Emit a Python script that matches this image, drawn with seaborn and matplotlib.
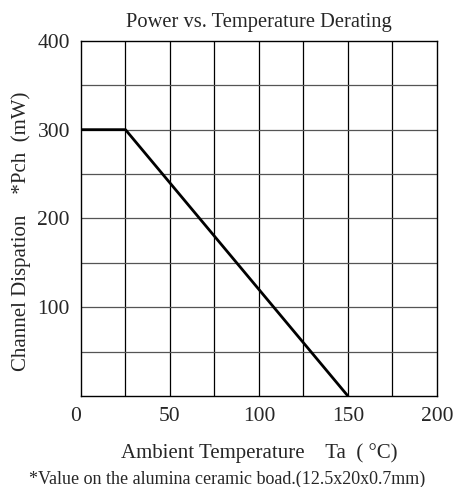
import numpy as np
import pandas as pd
import matplotlib
matplotlib.use("Agg")
import matplotlib.pyplot as plt
import seaborn as sns

# dados da curva de derating
temperatura = [0, 25, 150]
potencia = [300, 300, 0]
x_ticks = [0, 50, 100, 150, 200]
y_ticks = [100, 200, 300, 400]

sns.set_style("white")
plt.rcParams['font.family'] = ['Liberation Serif', 'DejaVu Serif']

df = pd.DataFrame({'Ta': temperatura, 'Pch': potencia})

fig = plt.figure(figsize=(4.55, 4.87), dpi=100)
ax = fig.add_axes([0.178, 0.187, 0.782, 0.729])

# grade
for xv in np.arange(25, 200, 25):
    ax.axvline(xv, color='black', lw=0.9, zorder=1)
for yv in np.arange(50, 400, 50):
    ax.axhline(yv, color='#555555', lw=0.9, zorder=1)

sns.lineplot(data=df, x='Ta', y='Pch', color='black', lw=2.0, ax=ax, zorder=3)

ax.set_xlim(0, 200)
ax.set_ylim(0, 400)
ax.set_xticks(x_ticks)
ax.set_yticks(y_ticks)
ax.tick_params(length=0, labelsize=15.5, pad=8)
ax.get_xticklabels()[0].set_horizontalalignment('right')
for s in ax.spines.values():
    s.set_color('black')
    s.set_linewidth(1.0)

ax.set_title('Power vs. Temperature Derating', fontsize=14.8, pad=10)
ax.set_xlabel('Ambient Temperature    Ta  ( °C)', fontsize=15, labelpad=12)
ax.set_ylabel('Channel Dispation    *Pch  (mW)', fontsize=15)
ax.yaxis.set_label_coords(-0.14, 0.465)
fig.text(0.5, 0.016, '*Value on the alumina ceramic boad.(12.5x20x0.7mm)',
         ha='center', va='center', fontsize=13)

fig.savefig('out.png', dpi=100)
